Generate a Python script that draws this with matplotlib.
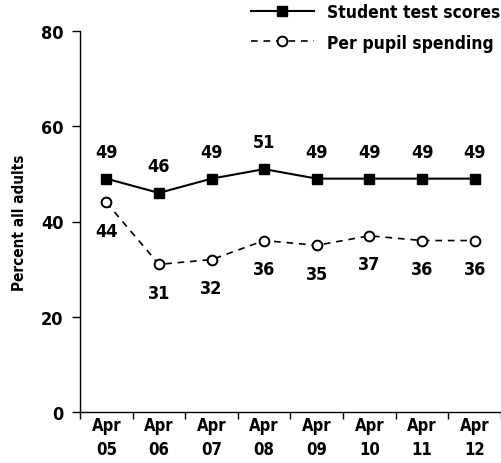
import matplotlib
matplotlib.use("Agg")
import matplotlib.pyplot as plt
from matplotlib import font_manager
import numpy as np

categories = ["Apr\n05", "Apr\n06", "Apr\n07", "Apr\n08", "Apr\n09", "Apr\n10", "Apr\n11", "Apr\n12"]
test_scores = [49, 46, 49, 51, 49, 49, 49, 49]
spending = [44, 31, 32, 36, 35, 37, 36, 36]
series_names = ["Student test scores", "Per pupil spending"]
yticks = [0, 20, 40, 60, 80]

cond = [f for f in font_manager.fontManager.ttflist if 'Condensed' in f.fname and f.name == 'DejaVu Sans']
plt.rcParams['font.family'] = ["DejaVu Sans"]
plt.rcParams['font.weight'] = 'bold'
if cond:
    plt.rcParams['font.stretch'] = 'condensed'

fig = plt.figure(figsize=(5.02, 4.64), dpi=100)
ax = fig.add_axes([80/502, 1-413/464, 421/502, (413-32)/464])

x = np.arange(len(categories))
ax.plot(x, test_scores, '-', color='black', lw=1.5, marker='s', ms=7,
        mfc='black', mec='black', label=series_names[0], clip_on=False)
ax.plot(x, spending, '--', color='black', lw=1.2, marker='o', ms=7,
        mfc='white', mec='black', mew=1.4, label=series_names[1], dashes=(4, 3.5), clip_on=False)

fs = 13
for xi, v in zip(x, test_scores):
    ax.annotate(str(v), (xi, v), xytext=(0, 13), textcoords='offset points',
                ha='center', va='bottom', fontsize=fs, fontweight='bold')
for xi, v in zip(x, spending):
    ax.annotate(str(v), (xi, v), xytext=(0, -14), textcoords='offset points',
                ha='center', va='top', fontsize=fs, fontweight='bold')

ax.set_xlim(-0.5, len(categories) - 0.5)
ax.set_ylim(0, 80)
ax.set_yticks(yticks)
ax.set_yticklabels([str(t) for t in yticks], fontsize=fs, fontweight='bold')
ax.set_xticks(x)
ax.set_xticklabels(categories, fontsize=12, fontweight='bold', linespacing=1.45)
ax.tick_params(axis='x', which='major', length=0, pad=3)
ax.set_xticks(np.arange(-0.5, len(categories)), minor=True)
ax.tick_params(axis='x', which='minor', length=5, width=1, direction='out')
ax.tick_params(axis='y', length=6, width=1, pad=6)
for s in ['top', 'right']:
    ax.spines[s].set_visible(False)
ax.spines['left'].set_linewidth(1)
ax.spines['bottom'].set_linewidth(1)

ax.set_ylabel("Percent all adults", fontsize=11, fontweight='bold', labelpad=10)

leg = fig.legend(loc='upper right', bbox_to_anchor=(1.027, 1.025), frameon=False,
                 handlelength=3.6, handletextpad=0.75, labelspacing=0.72,
                 prop={'weight': 'bold', 'size': 12.5})

fig.savefig("out.png", dpi=100)
